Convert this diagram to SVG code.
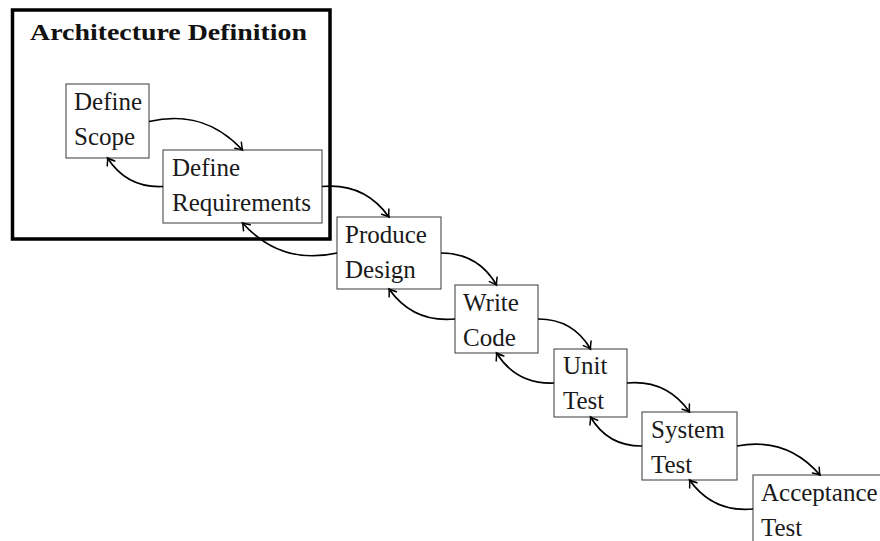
<svg xmlns="http://www.w3.org/2000/svg" width="880" height="541" viewBox="0 0 880 541">
<style>
.box{fill:#fff;stroke:#4a4a4a;stroke-width:1.1}
.lbl{font-family:'Liberation Serif','DejaVu Serif',serif;font-size:25px;fill:#1a1a1a}
.title{font-family:'Liberation Serif','DejaVu Serif',serif;font-size:23px;font-weight:bold;fill:#111}
.frame{fill:none;stroke:#000;stroke-width:3.5}
.conn path{fill:none;stroke:#000;stroke-width:1.7;marker-end:url(#arr)}
</style>
<defs>
<marker id="arr" markerUnits="userSpaceOnUse" viewBox="-9 -6 11 12" refX="0" refY="0" markerWidth="11" markerHeight="12" orient="auto" overflow="visible">
<path d="M-6.5,-4.5 Q-2,-1 0,0 Q-2,1 -6.5,4.5" fill="none" stroke="#000" stroke-width="1.5" stroke-linecap="round"/>
</marker>
</defs>
<rect width="880" height="541" fill="#fff"/>
<g id="architecture-definition">
<rect class="frame" x="12.5" y="10" width="317.5" height="229"/>
<text class="title" x="30" y="40" textLength="277" lengthAdjust="spacingAndGlyphs">Architecture Definition</text>
</g>
<g id="define-scope">
<rect class="box" x="66" y="84" width="83" height="74"/>
<text class="lbl" x="74" y="110">Define</text>
<text class="lbl" x="74" y="145">Scope</text>
</g>
<g id="define-requirements">
<rect class="box" x="163" y="150" width="159" height="73"/>
<text class="lbl" x="172" y="176">Define</text>
<text class="lbl" x="172" y="211">Requirements</text>
</g>
<g id="produce-design">
<rect class="box" x="337" y="217" width="104" height="72"/>
<text class="lbl" x="345" y="243">Produce</text>
<text class="lbl" x="345" y="278">Design</text>
</g>
<g id="write-code">
<rect class="box" x="455" y="285" width="83" height="68"/>
<text class="lbl" x="463" y="310.5">Write</text>
<text class="lbl" x="463" y="345.5">Code</text>
</g>
<g id="unit-test">
<rect class="box" x="554" y="349" width="73" height="68"/>
<text class="lbl" x="563" y="374">Unit</text>
<text class="lbl" x="563" y="409">Test</text>
</g>
<g id="system-test">
<rect class="box" x="642" y="412" width="95" height="68"/>
<text class="lbl" x="651" y="437.5">System</text>
<text class="lbl" x="651" y="472.5">Test</text>
</g>
<g id="acceptance-test">
<rect class="box" x="753" y="475" width="134" height="68"/>
<text class="lbl" x="761" y="500.5">Acceptance</text>
<text class="lbl" x="761" y="535.5">Test</text>
</g>
<g id="connectors" class="conn">
<path d="M149,121.5 C186.3,112.85 216.35,122 242.5,150"/>
<path d="M322,186.5 C350.7,183.7 372.3,193.6 389,217"/>
<path d="M441,253 C466.1,253 483.95,263.3 496.5,285"/>
<path d="M538,319 C561.7,318.9 578.6,328.6 590.5,349"/>
<path d="M627,383 C653.9,380.6 674,389.9 689.5,412"/>
<path d="M737,446 C770.8,439.6 797.5,448.9 820,475"/>
<path d="M163,186.5 C138.6,187.7 120.7,178.5 107.5,158"/>
<path d="M337,253 C299.1,261.3 268.65,251.7 242.5,223"/>
<path d="M455,319 C426.7,321.8 405.5,312.1 389,289"/>
<path d="M554,383 C528.6,384.1 510.1,374.4 496.5,353"/>
<path d="M642,446 C618.9,446.2 602.3,436.9 590.5,417"/>
<path d="M753,509 C725.8,511.6 705.4,502.3 689.5,480"/>
</g>
</svg>
